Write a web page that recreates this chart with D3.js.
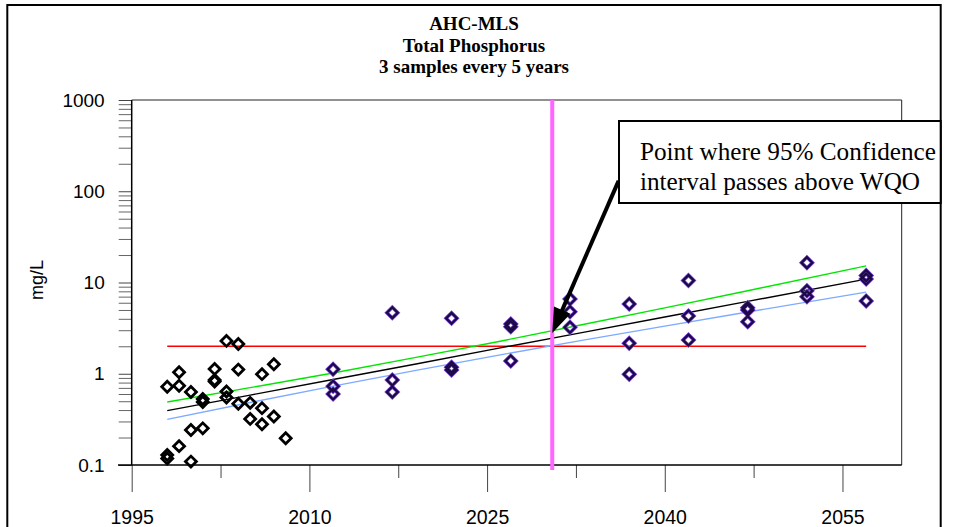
<!DOCTYPE html>
<html>
<head>
<meta charset="utf-8">
<script src="https://cdn.jsdelivr.net/npm/d3@7"></script>
<style>
  html, body { margin: 0; padding: 0; background: #fff; }
  svg { display: block; }
</style>
</head>
<body>
<svg id="chart" width="969" height="527"></svg>
<script>
// Measured total phosphorus, annual samples (mg/L)
const histYears = [1998,1998,1998, 1999,1999,1999, 2000,2000,2000, 2001,2001,2001,
                   2002,2002,2002, 2003,2003,2003, 2004,2004,2004, 2005,2005,
                   2006,2006,2006, 2007,2007, 2008];
const histValues = [0.72,0.129,0.118, 1.04,0.74,0.161, 0.63,0.242,0.109, 0.53,0.49,0.252,
                    1.13,0.855,0.82, 2.29,0.64,0.55, 2.12,1.11,0.47, 0.48,0.32,
                    0.99,0.42,0.28, 1.27,0.34, 0.196];

// Projected samples: 3 samples every 5 years (mg/L)
const projYears = [2012,2012,2012, 2017,2017,2017, 2022,2022,2022, 2027,2027,2027,
                   2032,2032,2032, 2037,2037,2037, 2042,2042,2042, 2047,2047,2047,
                   2052,2052,2052, 2057,2057,2057];
const projValues = [1.12,0.73,0.60, 4.67,0.855,0.63, 4.05,1.18,1.10, 3.51,3.28,1.38,
                    6.59,4.79,3.23, 5.81,2.16,0.99, 10.5,4.30,2.34, 5.29,5.00,3.72,
                    16.5,8.13,6.99, 11.9,10.9,6.27];

// Trend line and 95% confidence band (mg/L)
const bandYears   = [1998, 2005, 2012, 2019, 2026, 2033, 2040, 2047, 2057];
const trendValues = [0.394, 0.583, 0.865, 1.28, 1.91, 2.82, 4.19, 6.21, 10.9];
const upperValues = [0.490, 0.704, 1.02, 1.51, 2.26, 3.44, 5.27, 8.12, 15.2];
const lowerValues = [0.316, 0.484, 0.732, 1.09, 1.60, 2.32, 3.33, 4.75, 7.84];

// Water quality objective
const wqoYears = [1998, 2057];
const wqoValue = 2;

// Year the lower confidence bound crosses the objective
const crossingYear = 2030.5;

// Axis ticks
const xMajorTicks = [1995, 2010, 2025, 2040, 2055];
const xMinorTicks = [2002.5, 2017.5, 2032.5, 2047.5];
const yMajorTicks = [0.1, 1, 10, 100, 1000];
const yTickLabels = ["0.1", "1", "10", "100", "1000"];

const titleLines = ["AHC-MLS", "Total Phosphorus", "3 samples every 5 years"];
const noteLines = ["Point where 95% Confidence", "interval passes above WQO"];
const noteArrowFrom = [2036.1, 130];
const noteArrowTo = [2030.5, 2.8];

const svg = d3.select("#chart");
const plot = { left: 131.7, right: 901.7, top: 100, bottom: 465 };

const x = d3.scaleLinear().domain([1995, 2060]).range([plot.left, plot.right]);
const y = d3.scaleLog().domain([0.1, 1000]).range([plot.bottom, plot.top]);

// Outer border
svg.append("rect")
  .attr("x", 7.3).attr("y", 5).attr("width", 933.4).attr("height", 540)
  .attr("fill", "#fff").attr("stroke", "#000").attr("stroke-width", 2);

// Title
svg.append("g").selectAll("text").data(titleLines).join("text")
  .attr("x", 474)
  .attr("y", (d, i) => 30 + i * 21.5)
  .attr("text-anchor", "middle")
  .attr("font-family", "'Liberation Serif', 'Times New Roman', serif")
  .attr("font-weight", "bold")
  .attr("font-size", 19)
  .text(d => d);

// Plot frame (top and right)
svg.append("path")
  .attr("d", `M${plot.left},${plot.top}H${plot.right}V${plot.bottom}`)
  .attr("fill", "none").attr("stroke", "#222").attr("stroke-width", 1);

// Y axis: decades with labels plus 2..9 minor ticks
const yMinor = [];
for (let e = -1; e < 3; e++) for (let m = 2; m <= 9; m++) yMinor.push(m * Math.pow(10, e));

const yAxis = svg.append("g").attr("transform", `translate(${plot.left},0)`)
  .call(d3.axisLeft(y).tickValues(yMajorTicks).tickSize(13).tickPadding(14)
    .tickFormat((d, i) => yTickLabels[i]));
yAxis.select(".domain").remove();
yAxis.selectAll("line").attr("stroke", "#444");
yAxis.selectAll("text")
  .attr("font-family", "'Liberation Sans', Arial, sans-serif")
  .attr("font-size", 19).attr("fill", "#000");

const yMinorAxis = svg.append("g").attr("transform", `translate(${plot.left},0)`)
  .call(d3.axisLeft(y).tickValues(yMinor).tickSize(13).tickFormat(""));
yMinorAxis.select(".domain").remove();
yMinorAxis.selectAll("line").attr("stroke", "#666");

svg.append("line")
  .attr("x1", plot.left).attr("x2", plot.left)
  .attr("y1", plot.top).attr("y2", plot.bottom)
  .attr("stroke", "#000").attr("stroke-width", 1.5);

// X axis
const xAxis = svg.append("g").attr("transform", `translate(0,${plot.bottom})`)
  .call(d3.axisBottom(x).tickValues(xMajorTicks).tickSize(27).tickPadding(18)
    .tickFormat(d3.format("d")));
xAxis.select(".domain").remove();
xAxis.selectAll("line").attr("stroke", "#444");
xAxis.selectAll("text")
  .attr("font-family", "'Liberation Sans', Arial, sans-serif")
  .attr("font-size", 19.5).attr("fill", "#000");

const xMinorAxis = svg.append("g").attr("transform", `translate(0,${plot.bottom})`)
  .call(d3.axisBottom(x).tickValues(xMinorTicks).tickSize(13).tickFormat(""));
xMinorAxis.select(".domain").remove();
xMinorAxis.selectAll("line").attr("stroke", "#444");

svg.append("line")
  .attr("x1", plot.left - 13.7).attr("x2", plot.right)
  .attr("y1", plot.bottom).attr("y2", plot.bottom)
  .attr("stroke", "#000").attr("stroke-width", 1.5);

// Y axis title
svg.append("text")
  .attr("transform", "translate(43,280) rotate(-90)")
  .attr("text-anchor", "middle")
  .attr("font-family", "'Liberation Sans', Arial, sans-serif")
  .attr("font-size", 18)
  .text("mg/L");

// Lines
const line = d3.line().x(d => x(d[0])).y(d => y(d[1]));
const series = [
  { vals: lowerValues, color: "#7eaaff" },
  { vals: upperValues, color: "#00e600" },
  { vals: trendValues, color: "#000000" }
];
svg.append("path")
  .attr("d", line(wqoYears.map(yr => [yr, wqoValue])))
  .attr("fill", "none").attr("stroke", "#ff0000").attr("stroke-width", 1.5);
series.forEach(s => {
  svg.append("path")
    .attr("d", line(bandYears.map((yr, i) => [yr, s.vals[i]])))
    .attr("fill", "none").attr("stroke", s.color).attr("stroke-width", 1.4);
});

// Diamond markers
const diamond = d3.symbol().type(d3.symbolSquare).size(60);
svg.append("g").selectAll("path").data(histYears.map((yr, i) => [yr, histValues[i]])).join("path")
  .attr("d", diamond)
  .attr("transform", d => `translate(${x(d[0])},${y(d[1])}) rotate(45)`)
  .attr("fill", "none").attr("stroke", "#000").attr("stroke-width", 2.8);

const projData = projYears.map((yr, i) => [yr, projValues[i]]);
svg.append("g").selectAll("path").data(projData).join("path")
  .attr("d", diamond)
  .attr("transform", d => `translate(${x(d[0])},${y(d[1])}) rotate(45)`)
  .attr("fill", "none").attr("stroke", "#7a44e0").attr("stroke-width", 3.6);
svg.append("g").selectAll("path").data(projData).join("path")
  .attr("d", diamond)
  .attr("transform", d => `translate(${x(d[0])},${y(d[1])}) rotate(45)`)
  .attr("fill", "none").attr("stroke", "#1c0a45").attr("stroke-width", 2.2);

// Crossing marker
svg.append("line")
  .attr("x1", x(crossingYear)).attr("x2", x(crossingYear))
  .attr("y1", plot.top).attr("y2", plot.bottom + 5)
  .attr("stroke", "#ff66ff").attr("stroke-width", 4);

// Annotation arrow
const ax0 = x(noteArrowFrom[0]), ay0 = y(noteArrowFrom[1]);
const ax1 = x(noteArrowTo[0]), ay1 = y(noteArrowTo[1]);
const len = Math.hypot(ax1 - ax0, ay1 - ay0);
const ux = (ax1 - ax0) / len, uy = (ay1 - ay0) / len;
const headLen = 25, headHalf = 9;
const bx = ax1 - ux * headLen, by = ay1 - uy * headLen;
svg.append("line")
  .attr("x1", ax0).attr("y1", ay0)
  .attr("x2", bx + ux * 2).attr("y2", by + uy * 2)
  .attr("stroke", "#000").attr("stroke-width", 4);
svg.append("path")
  .attr("d", `M${ax1},${ay1}L${bx - uy * headHalf},${by + ux * headHalf}L${bx + uy * headHalf},${by - ux * headHalf}Z`)
  .attr("fill", "#000");

// Annotation box
svg.append("rect")
  .attr("x", 620).attr("y", 122).attr("width", 321).attr("height", 82)
  .attr("fill", "#999");
svg.append("rect")
  .attr("x", 619).attr("y", 121).attr("width", 321.7).attr("height", 82)
  .attr("fill", "#fff").attr("stroke", "#000").attr("stroke-width", 2);
svg.append("g").selectAll("text").data(noteLines).join("text")
  .attr("x", 640)
  .attr("y", (d, i) => 160 + i * 30)
  .attr("font-family", "'Liberation Serif', 'Times New Roman', serif")
  .attr("font-size", 25.2)
  .text(d => d);
</script>
</body>
</html>
